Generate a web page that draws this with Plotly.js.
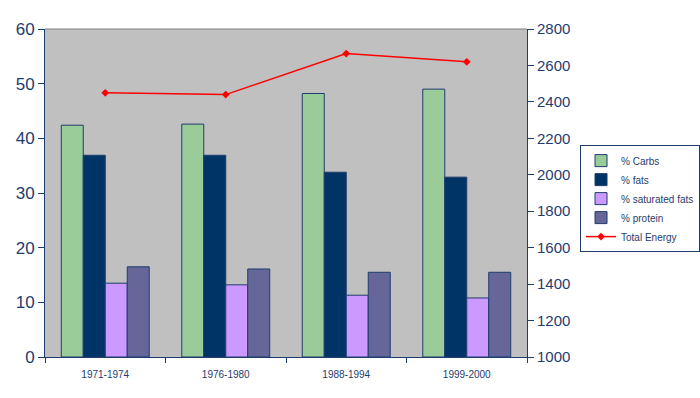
<!DOCTYPE html>
<html>
<head>
<script src="https://cdn.plot.ly/plotly-3.0.1.min.js"></script>
<style>html,body{margin:0;padding:0;background:#fff;}#chart{width:700px;height:398px;}</style>
</head>
<body>
<div id="chart"></div>
<script>
const periods = ["1971-1974", "1976-1980", "1988-1994", "1999-2000"];
const carbs = [42.4, 42.6, 48.2, 49.0];
const fats = [36.9, 36.9, 33.8, 32.9];
const satFats = [13.5, 13.2, 11.3, 10.8];
const protein = [16.5, 16.1, 15.5, 15.5];
const energy = [2450, 2440, 2665, 2620];

const navy = "#1f3c6e";
const barLine = {color: "#1f3c6e", width: 1};
const data = [
  {type: "bar", name: "% Carbs", x: periods, y: carbs, marker: {color: "#99cc99", line: barLine}},
  {type: "bar", name: "% fats", x: periods, y: fats, marker: {color: "#003366", line: barLine}},
  {type: "bar", name: "% saturated fats", x: periods, y: satFats, marker: {color: "#cc99ff", line: barLine}},
  {type: "bar", name: "% protein", x: periods, y: protein, marker: {color: "#666699", line: barLine}},
  {type: "scatter", mode: "lines+markers", name: "Total Energy", x: periods, y: energy, yaxis: "y2",
   line: {color: "#ff0000", width: 1.5}, marker: {symbol: "diamond", size: 6, color: "#ff0000"}}
];

const layout = {
  width: 700, height: 398,
  margin: {l: 45, r: 173, t: 29, b: 41, autoexpand: false},
  paper_bgcolor: "#ffffff",
  plot_bgcolor: "#c0c0c0",
  font: {family: "Liberation Sans, Arial, sans-serif", color: navy},
  barmode: "group",
  bargap: 0.27,
  bargroupgap: 0,
  showlegend: true,
  legend: {x: 1.11, xanchor: "left", y: 0.646, yanchor: "top", bgcolor: "#ffffff",
           bordercolor: navy, borderwidth: 1, font: {size: 10, color: navy}, traceorder: "normal",
           itemwidth: 30, tracegroupgap: 0},
  xaxis: {type: "category", tickson: "boundaries", ticks: "outside", ticklen: 5, tickcolor: navy,
          showline: true, linecolor: navy, linewidth: 1, tickfont: {size: 10, color: navy},
          ticklabelstandoff: 8, showgrid: false, zeroline: false},
  yaxis: {range: [0, 60], dtick: 10, ticks: "outside", ticklen: 6, tickcolor: navy,
          showline: true, linecolor: navy, linewidth: 1, showgrid: false, zeroline: false,
          tickfont: {size: 17, color: navy}},
  yaxis2: {range: [1000, 2800], dtick: 200, overlaying: "y", side: "right", ticks: "outside", ticklen: 6,
           tickcolor: navy, showline: true, linecolor: navy, linewidth: 1, showgrid: false, zeroline: false,
           tickfont: {size: 15, color: navy}},
  shapes: [{type: "line", xref: "paper", yref: "paper", x0: 0, x1: 1, y0: 1, y1: 1,
            line: {color: "#808080", width: 1}}]
};

Plotly.newPlot("chart", data, layout, {displayModeBar: false, staticPlot: true});
</script>
</body>
</html>
